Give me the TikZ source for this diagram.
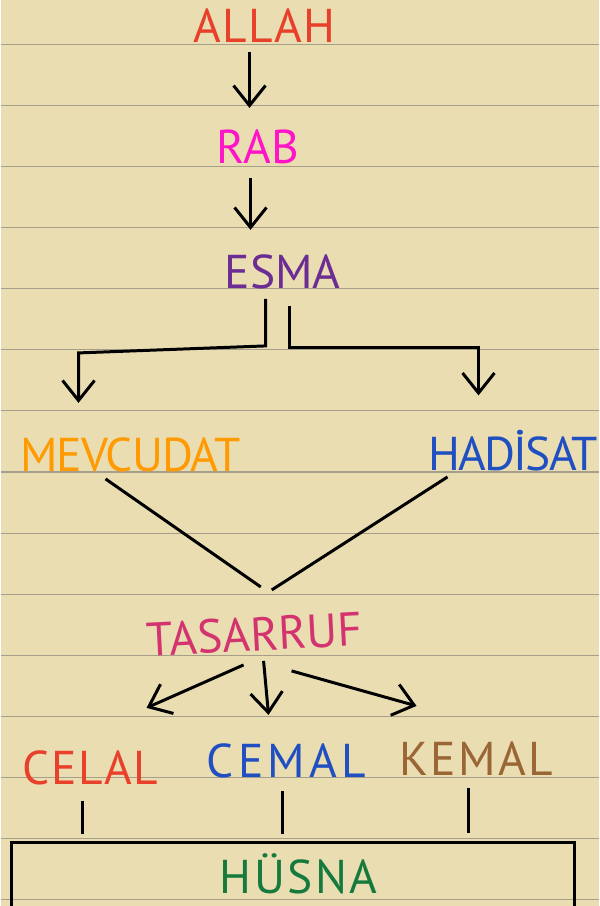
\documentclass[tikz,border=0pt]{standalone}
\usepackage{fontspec}
\setmainfont{PT Sans}
\usetikzlibrary{arrows.meta,calc}
\definecolor{paper}{RGB}{234,221,178}
\definecolor{ruling}{RGB}{165,158,138}
\definecolor{cRed}{RGB}{232,64,42}
\definecolor{cMagenta}{RGB}{255,20,200}
\definecolor{cPurple}{RGB}{107,45,148}
\definecolor{cOrange}{RGB}{255,154,0}
\definecolor{cBlue}{RGB}{31,79,193}
\definecolor{cRose}{RGB}{211,52,111}
\definecolor{cBrown}{RGB}{155,102,54}
\definecolor{cGreen}{RGB}{22,122,60}
\begin{document}
\begin{tikzpicture}[
    x=0.02cm, y=-0.02cm,
    word/.style={font=\fontsize{27}{30}\selectfont, inner sep=0pt, anchor=base},
    wide/.style={font=\fontsize{27}{30}\selectfont\addfontfeature{LetterSpace=#1}},
    arr/.style={->, line width=1.7pt},
    link/.style={line width=1.7pt},
    >={Straight Barb[length=0.4cm,width=0.64cm]}
]
    % Paper
    \fill[paper] (0,0) rectangle (598,906);
    \foreach \k in {0,...,14}
        \draw[ruling, line width=0.6pt] (0,44.3+61.1*\k) -- (598,44.3+61.1*\k);
    \useasboundingbox (0,0) rectangle (598,906);

    % Words
    \node[word, wide=3, text=cRed] (allah) at (264,42) {ALLAH};
    \node[word, text=cMagenta] (rab) at (257,163) {RAB};
    \node[word, text=cPurple] (esma) at (282,288) {ESMA};
    \node[word, wide=-2, text=cOrange] (mevcudat) at (130,471) {MEVCUDAT};
    \node[word, wide=-4, text=cBlue] (hadisat) at (513,470) {HADİSAT};
    \node[word, text=cRose, rotate=3] (tasarruf) at (255,651) {TASARRUF};
    \node[word, wide=3, text=cRed] (celal) at (90,784) {CELAL};
    \node[word, wide=9, text=cBlue] (cemal) at (286,777) {CEMAL};
    \node[word, wide=5, text=cBrown] (kemal) at (476,775) {KEMAL};
    \node[word, wide=5, text=cGreen] (husna) at (298,893) {HÜSNA};

    % Arrows down the middle
    \draw[arr] ($(allah.south)+(-15,10)$) -- ($(rab.north)+(-8,-21)$);
    \draw[arr] ($(rab.south)+(-7,14)$) -- ($(esma.north)+(-32,-24)$);

    % Split below ESMA
    \draw[arr] ($(esma.south)+(-17,10)$) -- ++(0,47) -- ++(-187,7)
        -- ($(mevcudat.north)+(-52,-34)$);
    \draw[arr] ($(esma.south)+(7,17)$) -- ++(0,42)
        -| ($(hadisat.north)+(-35,-34)$);

    % Join into TASARRUF
    \draw[link] ($(mevcudat.south)+(-25,7)$) -- ($(tasarruf.north)+(7,-30)$);
    \draw[link] ($(hadisat.south)+(-66,6)$) -- ($(tasarruf.north)+(18,-27)$);

    % Three names
    \draw[arr] ($(tasarruf.south)+(-12,13)$) -- ($(celal.north)+(56,-42)$);
    \draw[arr] ($(tasarruf.south)+(8,9)$) -- ($(cemal.north)+(-18,-28)$);
    \draw[arr] ($(tasarruf.south)+(36,19)$) -- ($(kemal.north)+(-60,-35)$);

    % Ticks and bracket
    \coordinate (bl) at (11,906);
    \coordinate (br) at (574,906);
    \draw[link] ($(celal.south)+(-8,16)$) -- ++(0,33);
    \draw[link] ($(cemal.south)+(-4,13)$) -- ++(0,43);
    \draw[link] ($(kemal.south)+(-8,13)$) -- ++(0,45);
    \draw[link] (bl) -- ++(0,-64) -| (br);
\end{tikzpicture}
\end{document}
